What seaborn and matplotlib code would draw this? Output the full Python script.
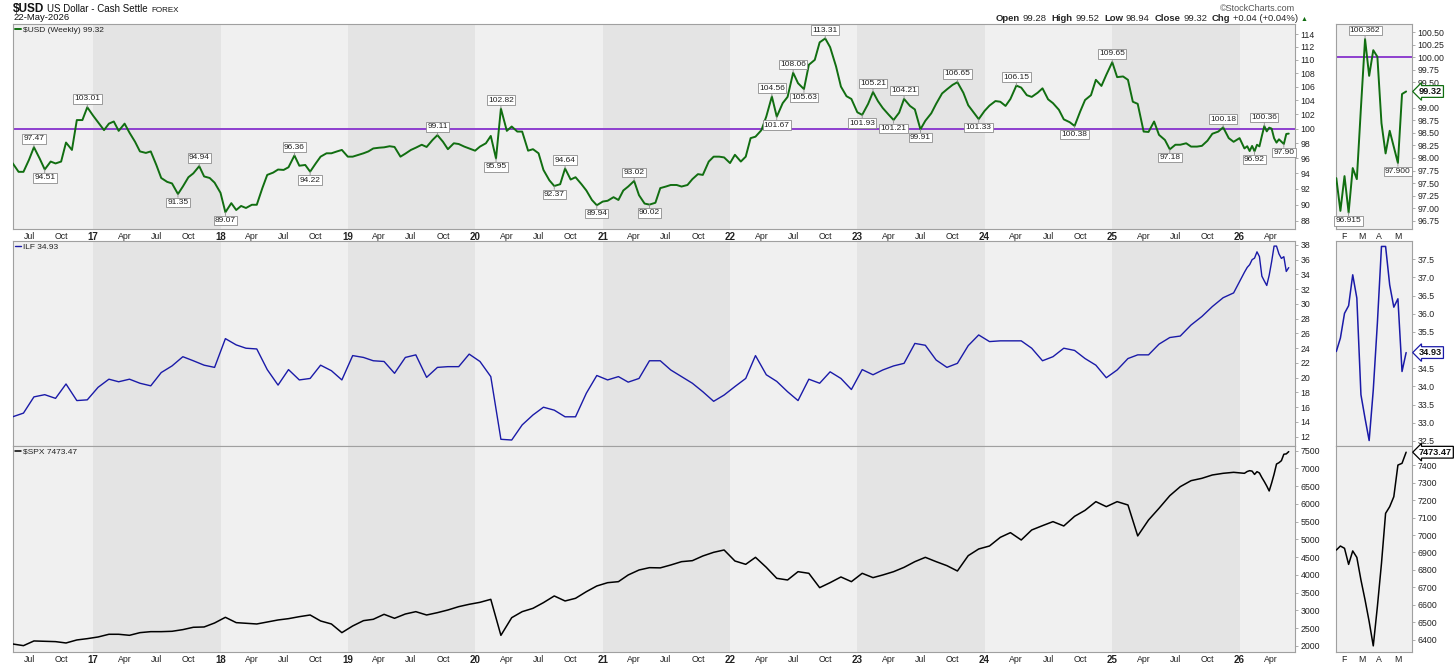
"""
StockCharts-style view: $USD weekly with ILF and $SPX panels, plus zoomed recent panels.
"""

import matplotlib
matplotlib.use("Agg")
import pandas as pd
import matplotlib.pyplot as plt
from matplotlib.ticker import FixedLocator, FuncFormatter, NullLocator
import seaborn as sns

# ─── Data ────────────────────────────────────────────────────────────────────

# $USD closes on the 1st / 15th of each month, 2016-05-15 .. 2026-01-15
USD_START = "2016-05-15"
USD_VALUES = [
    95.33, 94.2, 94.2, 95.8, 97.47, 95.9, 94.51, 95.55, 95.3, 95.55, 98.1, 97.1,
    101.2, 101.2, 103.01, 101.8, 100.9, 99.8, 100.7, 101.0, 99.7, 100.7, 99.45, 98.2,
    96.9, 96.7, 96.9, 95.1, 93.4, 92.9, 92.7, 91.35, 92.3, 93.5, 94.0, 94.94,
    93.6, 93.4, 92.8, 91.5, 89.07, 90.2, 89.35, 89.85, 89.6, 90.0, 90.0, 92.1,
    93.8, 94.1, 94.5, 94.45, 94.8, 96.36, 95.0, 95.1, 94.22, 95.3, 96.2, 96.65,
    96.65, 96.9, 97.1, 96.2, 96.2, 96.45, 96.65, 96.9, 97.3, 97.4, 97.45, 97.6,
    97.5, 96.2, 96.6, 97.1, 97.4, 97.8, 97.5, 98.45, 99.11, 98.2, 97.2, 98.0,
    97.9, 97.55, 97.3, 97.0, 97.55, 98.0, 99.0, 95.95, 102.82, 99.7, 100.3, 99.6,
    99.6, 97.0, 97.2, 96.65, 94.45, 93.1, 92.37, 92.6, 94.64, 93.2, 93.5, 92.6,
    91.8, 90.6, 89.94, 90.4, 90.5, 90.95, 90.6, 91.8, 92.3, 93.02, 91.2, 90.15,
    90.02, 90.25, 92.1, 92.3, 92.5, 92.5, 92.3, 92.5, 93.25, 93.9, 93.8, 95.55,
    96.2, 96.2, 96.1, 95.35, 96.45, 95.55, 96.2, 98.7, 98.9, 99.8, 101.7, 104.56,
    101.67, 103.6, 104.5, 108.06, 106.5, 105.63, 109.25, 110.0, 112.7, 113.31, 111.95, 109.0,
    106.0, 104.6, 104.2, 102.3, 101.93, 103.5, 105.21, 103.9, 102.9, 101.95, 101.21, 102.25,
    104.21, 103.2, 102.7, 99.91, 101.1, 102.15, 103.5, 105.0, 105.6, 106.25, 106.65, 105.1,
    103.3, 102.25, 101.33, 102.5, 103.25, 103.9, 103.8, 103.2, 104.2, 106.15, 105.85, 104.75,
    104.5, 105.1, 105.75, 104.15, 103.6, 102.65, 101.3, 100.9, 100.38, 102.4, 104.05, 104.75,
    107.0, 106.1, 107.75, 109.65, 107.4, 107.5, 107.0, 103.8, 103.5, 99.6, 99.55, 101.0,
    99.15, 98.45, 97.18, 97.8, 97.8, 98.0, 97.55, 97.55, 97.65, 98.35, 99.3, 99.6,
    100.18, 98.7, 98.2, 98.7, 97.3,
]

# ILF and $SPX closes on the 15th of each month, 2016-05-15 .. 2026-01-15
MONTH_START = "2016-05-01"
ILF_VALUES = [
    14.7, 15.2, 17.4, 17.7, 17.2, 19.15, 16.9, 17.0, 18.7, 19.8, 19.45, 19.8,
    19.25, 18.9, 20.7, 21.6, 22.85, 22.3, 21.7, 21.4, 25.3, 24.45, 24.0, 23.9,
    21.1, 19.0, 21.1, 19.7, 19.9, 21.7, 20.95, 19.7, 23.0, 22.75, 22.3, 22.2,
    20.6, 22.75, 23.1, 20.05, 21.4, 21.5, 21.5, 23.2, 22.2, 20.15, 11.65, 11.55,
    13.6, 14.95, 16.0, 15.6, 14.7, 14.7, 17.9, 20.3, 19.7, 20.15, 19.4, 19.9,
    22.3, 22.3, 21.05, 20.15, 19.25, 18.1, 16.8, 17.65, 18.8, 19.9, 23.0, 20.4,
    19.5, 18.1, 16.9, 19.8, 19.25, 20.8, 19.9, 18.4, 21.1, 20.4, 21.05, 21.6,
    21.95, 24.65, 24.4, 22.4, 21.4, 21.95, 24.35, 25.8, 24.9, 25.0, 25.0, 25.0,
    24.0, 22.3, 22.85, 24.0, 23.7, 22.6, 21.7, 20.0, 21.05, 22.6, 23.1, 23.1,
    24.55, 25.45, 25.65, 27.15, 28.3, 29.65, 30.85, 31.5, 34.3,
]
SPX_VALUES = [
    2057, 2010, 2142, 2132, 2123, 2085, 2170, 2207, 2254, 2330, 2330, 2301,
    2376, 2404, 2404, 2414, 2461, 2527, 2536, 2648, 2808, 2658, 2639, 2620,
    2676, 2733, 2770, 2826, 2873, 2705, 2620, 2376, 2564, 2714, 2752, 2892,
    2780, 2901, 2967, 2873, 2939, 3014, 3108, 3174, 3230, 3314, 2300, 2798,
    2967, 3061, 3221, 3409, 3268, 3343, 3530, 3690, 3783, 3812, 4000, 4140,
    4206, 4200, 4281, 4375, 4403, 4535, 4638, 4704, 4394, 4300, 4497, 4215,
    3906, 3859, 4093, 4047, 3643, 3784, 3944, 3812, 4047, 3925, 4000, 4093,
    4215, 4375, 4497, 4375, 4262, 4112, 4544, 4732, 4816, 5060, 5192, 4985,
    5267, 5389, 5502, 5380, 5652, 5820, 6065, 5924, 6065, 5971, 5100, 5548,
    5877, 6233, 6487, 6656, 6722, 6816, 6863, 6891, 6863,
]

# last 18 weekly closes, 2026-01-23 .. 2026-05-22 (also the zoom panels)
RECENT_START = "2026-01-23"
USD_RECENT = [97.6, 96.95, 97.64, 96.9152, 97.8, 97.58, 99.0, 100.362, 99.63,
              100.14, 100.01, 98.69, 98.09, 98.54, 98.22, 97.9, 99.27, 99.32]
ILF_RECENT = [34.96, 35.33, 36.01, 36.22, 37.07, 36.43, 33.77, 33.12, 32.51,
              33.9, 35.74, 37.85, 37.85, 36.79, 36.18, 36.41, 34.41, 34.93]
SPX_RECENT = [6914, 6937, 6924, 6832, 6909, 6872, 6743, 6629, 6505,
              6366, 6590, 6838, 7124, 7162, 7219, 7400, 7410, 7473.47]

# labelled swing points on the $USD line
USD_HIGH_DATES = ["2016-07-15", "2016-12-15", "2017-11-01", "2018-08-01", "2019-09-15",
                  "2020-03-15", "2020-09-15", "2021-04-01", "2022-05-01", "2022-07-01",
                  "2022-10-01", "2023-02-15", "2023-05-15", "2023-10-15", "2024-04-01",
                  "2025-01-01", "2025-11-15", "2026-03-13"]
USD_LOW_DATES = ["2016-08-15", "2017-09-01", "2018-01-15", "2018-09-15", "2020-03-01",
                 "2020-08-15", "2020-12-15", "2021-05-15", "2022-05-15", "2022-08-01",
                 "2023-01-15", "2023-04-15", "2023-07-01", "2023-12-15", "2024-09-15",
                 "2025-06-15", "2026-02-13", "2026-05-08"]
ZOOM_HIGH_DATES = ["2026-03-13"]
ZOOM_LOW_DATES = ["2026-02-13", "2026-05-08"]

USD_LEVEL = 100.0

# axis ticks (labels hidden under the last-value tags are left out, as in the original)
USD_TICKS = list(range(88, 115, 2))
ILF_TICKS = list(range(12, 39, 2))
SPX_TICKS = list(range(2000, 7501, 500))
USD_ZOOM_TICKS = [96.75, 97.0, 97.25, 97.5, 97.75, 98.0, 98.25, 98.5, 98.75,
                  99.0, 99.5, 99.75, 100.0, 100.25, 100.5]
ILF_ZOOM_TICKS = [32.5, 33.0, 33.5, 34.0, 34.5, 35.5, 36.0, 36.5, 37.0, 37.5]
SPX_ZOOM_TICKS = list(range(6400, 7401, 100))

# ─── Style ───────────────────────────────────────────────────────────────────

sns.set_style("white")
plt.rcParams["font.family"] = ["Liberation Sans", "DejaVu Sans"]

LIGHT = "#f0f0f0"
DARK = "#e4e4e4"
FRAME = "#a0a0a0"
GREEN = "#116e11"
BLUE = "#1a1aa8"
PURPLE = "#8e3fcf"
TXT = "#222222"

W, H = 1456, 666


def px_box(x0, y0, x1, y1):
    return [x0 / W, 1 - y1 / H, (x1 - x0) / W, (y1 - y0) / H]


def style_axis(ax, ticks, fmt):
    ax.set_facecolor(LIGHT)
    for sp in ax.spines.values():
        sp.set_color(FRAME)
        sp.set_linewidth(0.8)
    ax.yaxis.tick_right()
    ax.yaxis.set_major_locator(FixedLocator(ticks))
    ax.yaxis.set_major_formatter(FuncFormatter(lambda v, p: fmt.format(v)))
    ax.yaxis.set_minor_locator(NullLocator())
    ax.tick_params(axis="y", which="major", direction="out", length=2.5, width=0.6,
                   color=FRAME, labelcolor=TXT, labelsize=6.3, pad=1.5)
    ax.tick_params(axis="x", which="both", length=0, labelsize=6.3, labelcolor=TXT, pad=2)
    ax.set_xlabel("")
    ax.set_ylabel("")


def value_box(ax, x, y, text, above):
    ax.annotate(text, xy=(x, y), xytext=(0, 3.5 if above else -3.5),
                textcoords="offset points", ha="center",
                va="bottom" if above else "top", fontsize=6, color=TXT,
                bbox=dict(boxstyle="square,pad=0.15", fc="white", ec="#8c8c8c", lw=0.6),
                arrowprops=dict(arrowstyle="-", color="#8c8c8c", lw=0.6,
                                shrinkA=0, shrinkB=0),
                zorder=6, annotation_clip=False)


def last_tag(ax, value, text, edge):
    ax.annotate(text, xy=(1.0, value), xycoords=("axes fraction", "data"),
                xytext=(5, 0), textcoords="offset points", ha="left", va="center",
                fontsize=6.6, fontweight="bold", color="#111111",
                bbox=dict(boxstyle="larrow,pad=0.15", fc="white", ec=edge, lw=0.9),
                annotation_clip=False, zorder=7)


# ─── Series ──────────────────────────────────────────────────────────────────

recent_dates = pd.date_range(RECENT_START, periods=len(USD_RECENT), freq="7D")
usd_dates = pd.date_range(USD_START, periods=len(USD_VALUES), freq="SMS")
ilf_dates = pd.date_range(MONTH_START, periods=len(ILF_VALUES), freq="MS") + pd.Timedelta(days=14)
spx_dates = pd.date_range(MONTH_START, periods=len(SPX_VALUES), freq="MS") + pd.Timedelta(days=14)

usd = pd.DataFrame({"date": usd_dates.append(recent_dates), "value": USD_VALUES + USD_RECENT})
ilf = pd.DataFrame({"date": ilf_dates.append(recent_dates), "value": ILF_VALUES + ILF_RECENT})
spx = pd.DataFrame({"date": spx_dates.append(recent_dates), "value": SPX_VALUES + SPX_RECENT})
usd_z = pd.DataFrame({"date": recent_dates, "value": USD_RECENT})
ilf_z = pd.DataFrame({"date": recent_dates, "value": ILF_RECENT})
spx_z = pd.DataFrame({"date": recent_dates, "value": SPX_RECENT})

# ─── Figure ──────────────────────────────────────────────────────────────────

fig = plt.figure(figsize=(W / 100, H / 100), dpi=100)
fig.patch.set_facecolor("white")

ax_usd = fig.add_axes(px_box(13, 24, 1295, 229))
ax_ilf = fig.add_axes(px_box(13, 241, 1295, 446))
ax_spx = fig.add_axes(px_box(13, 446, 1295, 652))
ax_usd_z = fig.add_axes(px_box(1336, 24, 1412, 229))
ax_ilf_z = fig.add_axes(px_box(1336, 241, 1412, 446))
ax_spx_z = fig.add_axes(px_box(1336, 446, 1412, 652))

last_usd = USD_RECENT[-1]
last_ilf = ILF_RECENT[-1]
last_spx = SPX_RECENT[-1]

sns.lineplot(data=usd, x="date", y="value", ax=ax_usd, color=GREEN, linewidth=1.4,
             estimator=None, label=rf"\$USD (Weekly) {last_usd:.2f}", zorder=3)
sns.lineplot(data=ilf, x="date", y="value", ax=ax_ilf, color=BLUE, linewidth=1.0,
             estimator=None, label=f"ILF {last_ilf:.2f}", zorder=3)
sns.lineplot(data=spx, x="date", y="value", ax=ax_spx, color="black", linewidth=1.1,
             estimator=None, label=rf"\$SPX {last_spx:.2f}", zorder=3)
sns.lineplot(data=usd_z, x="date", y="value", ax=ax_usd_z, color=GREEN, linewidth=1.4,
             estimator=None, legend=False, zorder=3)
sns.lineplot(data=ilf_z, x="date", y="value", ax=ax_ilf_z, color=BLUE, linewidth=1.1,
             estimator=None, legend=False, zorder=3)
sns.lineplot(data=spx_z, x="date", y="value", ax=ax_spx_z, color="black", linewidth=1.1,
             estimator=None, legend=False, zorder=3)

# main panels: log scale for the dollar, alternating year shading
ax_usd.set_yscale("log")
main_panels = [(ax_usd, USD_TICKS, (87.03, 115.6)),
               (ax_ilf, ILF_TICKS, (10.74, 38.54)),
               (ax_spx, SPX_TICKS, (1831, 7632))]
quarters = pd.date_range("2016-07-01", "2026-04-01", freq="QS")
q_labels = [f"{d:%y}" if d.month == 1 else f"{d:%b}" for d in quarters]

for ax, ticks, ylim in main_panels:
    style_axis(ax, ticks, "{:.0f}")
    ax.set_ylim(*ylim)
    ax.set_xlim(pd.Timestamp("2016-05-16"), pd.Timestamp("2026-06-09"))
    for yr in range(2017, 2027, 2):
        ax.axvspan(pd.Timestamp(f"{yr}-01-01"), pd.Timestamp(f"{yr + 1}-01-01"),
                   color=DARK, lw=0, zorder=0)
    ax.set_xticks(quarters)
    ax.set_xticklabels(q_labels)
    for lbl in ax.get_xticklabels():
        if lbl.get_text().isdigit():
            lbl.set_fontweight("bold")
            lbl.set_fontsize(7)
    ax.legend(loc="upper left", frameon=False, fontsize=6, handlelength=0.7,
              handletextpad=0.3, borderaxespad=0.15, borderpad=0.1, labelcolor=TXT)
ax_ilf.tick_params(axis="x", labelbottom=False)

ax_usd.axhline(USD_LEVEL, color=PURPLE, lw=1.4, zorder=2)

usd_by_date = usd.set_index("date")["value"]
for d in USD_HIGH_DATES:
    v = usd_by_date[pd.Timestamp(d)]
    value_box(ax_usd, pd.Timestamp(d), v, f"{v:.2f}", above=True)
for d in USD_LOW_DATES:
    v = usd_by_date[pd.Timestamp(d)]
    value_box(ax_usd, pd.Timestamp(d), v, f"{v:.2f}", above=False)

# zoom panels on the right
months = pd.date_range("2026-02-01", "2026-05-01", freq="MS")
zoom_panels = [(ax_usd_z, USD_ZOOM_TICKS, "{:.2f}", (96.59, 100.66)),
               (ax_ilf_z, ILF_ZOOM_TICKS, "{:.1f}", (32.36, 38.0)),
               (ax_spx_z, SPX_ZOOM_TICKS, "{:.0f}", (6331, 7509))]
for ax, ticks, fmt, ylim in zoom_panels:
    style_axis(ax, ticks, fmt)
    ax.set_ylim(*ylim)
    ax.set_xlim(pd.Timestamp("2026-01-22 12:00"), pd.Timestamp("2026-06-01"))
    ax.set_xticks(months)
    ax.set_xticklabels([f"{d:%b}"[0] for d in months])
    for lbl in ax.get_xticklabels():
        lbl.set_ha("left")
ax_ilf_z.tick_params(axis="x", labelbottom=False)

ax_usd_z.axhline(USD_LEVEL, color=PURPLE, lw=1.4, zorder=2)

usd_z_by_date = usd_z.set_index("date")["value"]
for d in ZOOM_HIGH_DATES:
    v = usd_z_by_date[pd.Timestamp(d)]
    value_box(ax_usd_z, pd.Timestamp(d), v, f"{v:.3f}", above=True)
for d in ZOOM_LOW_DATES:
    v = usd_z_by_date[pd.Timestamp(d)]
    value_box(ax_usd_z, pd.Timestamp(d), v, f"{v:.3f}", above=False)

last_tag(ax_usd_z, last_usd, f"{last_usd:.2f}", GREEN)
last_tag(ax_ilf_z, last_ilf, f"{last_ilf:.2f}", BLUE)
last_tag(ax_spx_z, last_spx, f"{last_spx:.2f}", "black")

# ─── Header ──────────────────────────────────────────────────────────────────

renderer = fig.canvas.get_renderer()


def text_run(x_px, y_px, pieces):
    for text, kw, gap in pieces:
        t = fig.text(x_px / W, 1 - y_px / H, text, va="baseline", **kw)
        x_px += t.get_window_extent(renderer).width + gap
    return x_px


text_run(13, 12, [
    (r"\$USD", dict(fontsize=8.5, fontweight="bold", color="#111111"), 3),
    ("US Dollar - Cash Settle", dict(fontsize=7, color="#111111"), 3),
    ("FOREX", dict(fontsize=5.8, color="#111111"), 0),
])
fig.text(13 / W, 1 - 20.5 / H, "22-May-2026", fontsize=6.8, color="#111111", va="baseline")

text_run(996, 21, [
    ("Open", dict(fontsize=6.8, fontweight="bold"), 2.5),
    ("99.28", dict(fontsize=6.8), 5),
    ("High", dict(fontsize=6.8, fontweight="bold"), 2.5),
    ("99.52", dict(fontsize=6.8), 5),
    ("Low", dict(fontsize=6.8, fontweight="bold"), 2.5),
    ("98.94", dict(fontsize=6.8), 5),
    ("Close", dict(fontsize=6.8, fontweight="bold"), 2.5),
    ("99.32", dict(fontsize=6.8), 5),
    ("Chg", dict(fontsize=6.8, fontweight="bold"), 2.5),
    ("+0.04 (+0.04%)", dict(fontsize=6.8), 2),
    ("\u25b2", dict(fontsize=5, color=GREEN), 0),
])
fig.text(1295 / W, 1 - 11 / H, "\u00a9StockCharts.com", fontsize=6.5, color="#555555",
         ha="right", va="baseline")

fig.savefig("out.png", dpi=100)
